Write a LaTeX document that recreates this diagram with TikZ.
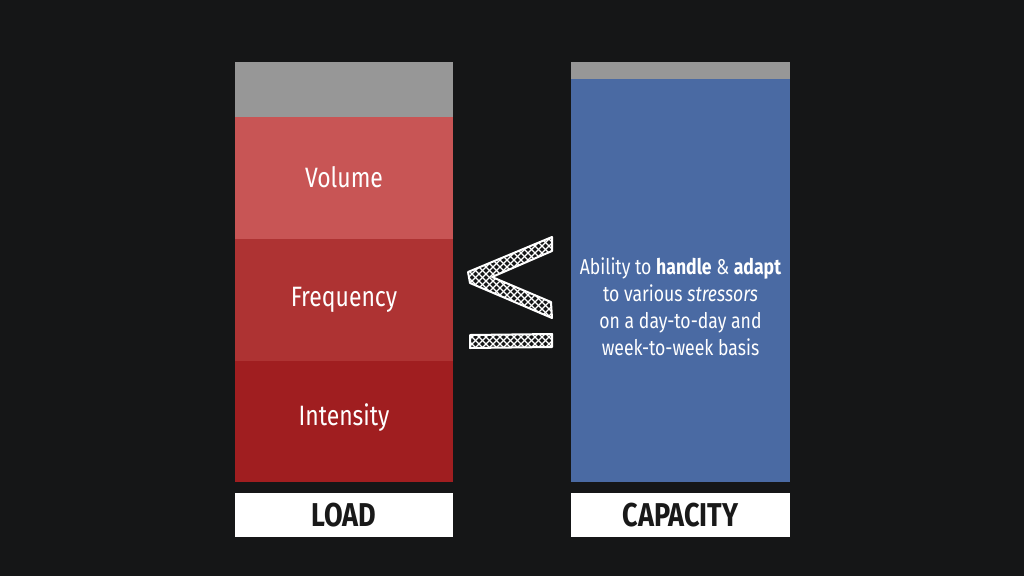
\documentclass[tikz,border=0pt]{standalone}
\usepackage{fontspec}
\setmainfont{Fira Sans}[FakeStretch=0.82]
\usepackage{tikz}
\usepackage{xcolor}

\definecolor{bgdark}{RGB}{21,22,23}
\definecolor{capgray}{RGB}{151,151,151}
\definecolor{volred}{RGB}{200,85,85}
\definecolor{freqred}{RGB}{174,51,51}
\definecolor{intred}{RGB}{160,30,32}
\definecolor{capblue}{RGB}{74,106,163}

\begin{document}
\begin{tikzpicture}[x=1pt,y=1pt,yscale=-1,xscale=1,
  blocktext/.style={text=white,font=\fontsize{28}{32}\selectfont},
  tagbox/.style={fill=white,inner sep=0pt,outer sep=0pt,minimum width=218pt,minimum height=44pt,
    font=\fontsize{33}{36}\selectfont\bfseries,text=black!90},
  hatch/.style={white,line width=1.1}]

%Background
\fill [bgdark] (0,0) rectangle (1024,576);

%Shape: Rectangle -- load column
\fill [capgray] (235,62) rectangle (453,117);
\fill [volred] (235,117) rectangle (453,239);
\fill [freqred] (235,239) rectangle (453,361);
\fill [intred] (235,361) rectangle (453,482);

%Shape: Rectangle -- capacity column
\fill [capgray] (571,62) rectangle (790,79);
\fill [capblue] (571,79) rectangle (790,482);

% Text Node
\draw (344,177) node [blocktext] (volume) {Volume};
% Text Node
\draw (344,300) node [blocktext] (frequency) {Frequency};
% Text Node
\draw (344,418) node [blocktext] (intensity) {Intensity};

% Text Node
\draw (680.5,307) node [text=white,align=center,font=\fontsize{21.5}{27}\selectfont] (ability)
  {Ability to \textbf{handle} \& \textbf{adapt}\\to various \textit{stressors}\\on a day-to-day and\\week-to-week basis};

% Text Node
\draw (344,515) node [tagbox] (load) {LOAD};
% Text Node
\draw (680.5,515) node [tagbox,minimum width=219pt] (capacity) {CAPACITY};

%Shape: hand drawn less-or-equal sign
\begin{scope}
\clip (552,237) -- (468,272) -- (470,283) -- (552,318) -- (551,302) -- (492,277) -- (552,251) -- cycle
      (470,335) -- (552,334) -- (552,347) -- (470,348) -- cycle ;
\foreach \i in {330,337,...,680} {
  \draw [hatch] (\i,230) -- (\i+130,360) ;
  \draw [hatch] (\i,360) -- (\i+130,230) ;
}
\end{scope}
\draw [white,line width=2,line join=round]
  (552,237) -- (468,272) -- (470,283) -- (552,318) -- (551,302) -- (492,277) -- (552,251) -- cycle ;
\draw [white,line width=2,line join=round]
  (470,335) -- (552,334) -- (552,347) -- (470,348) -- cycle ;

\end{tikzpicture}
\end{document}
